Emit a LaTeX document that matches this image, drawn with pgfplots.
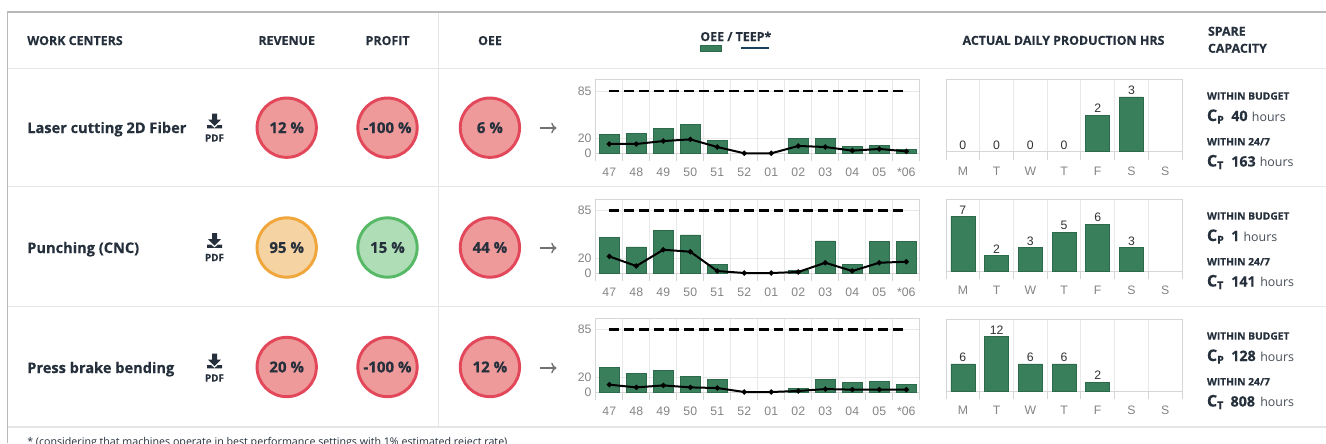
\documentclass[border=0pt]{standalone}
\usepackage{pgfplots}
\pgfplotsset{compat=1.18}
\usepackage{pgfplotstable}
\usepackage{fontspec}
\setmainfont{Open Sans}[BoldFeatures={FakeBold=0.35}]
\setsansfont{Liberation Sans}
\usetikzlibrary{arrows.meta}
\definecolor{barg}{HTML}{3A7F5C}
\definecolor{bare}{HTML}{2C6A4B}
\definecolor{gridc}{HTML}{E8E8E8}
\definecolor{axc}{HTML}{D6D6D6}
\definecolor{tickc}{HTML}{858585}
\definecolor{ink}{HTML}{25303C}
\definecolor{ruleL}{HTML}{E6E6E6}
\definecolor{frameC}{HTML}{B8B8B8}
\definecolor{redF}{HTML}{EE9A9A}
\definecolor{redB}{HTML}{E2485A}
\definecolor{orF}{HTML}{F6D3A3}
\definecolor{orB}{HTML}{F0A63A}
\definecolor{grF}{HTML}{AEDDB6}
\definecolor{grB}{HTML}{57B866}
\definecolor{navy}{HTML}{17405E}

\pgfplotstableread{
x bar line
0 26.3 12.7
1 27.6 12.7
2 34.4 16.7
3 39.4 19.0
4 17.2 8.6
5 nan 0
6 nan 0
7 20.4 10.0
8 20.4 8.6
9 9.5 3.6
10 11.3 5.9
11 5.4 2.7
}\oeeA
\pgfplotstableread{
x bar line
0 48.9 22.6
1 35.7 9.5
2 57.9 31.7
3 52.0 29.0
4 11.3 2.7
5 nan 0
6 nan 0
7 4.0 1.4
8 43.9 14.0
9 12.2 2.7
10 43.0 14.0
11 43.0 15.4
}\oeeB
\pgfplotstableread{
x bar line
0 33.5 10.0
1 24.9 6.3
2 29.0 9.0
3 21.7 6.3
4 16.7 5.4
5 nan 0
6 nan 0
7 5.0 1.4
8 16.7 4.0
9 13.0 3.2
10 14.0 3.2
11 10.9 3.2
}\oeeC
\pgfplotstableread{
x t
0 85
1 85
2 85
3 85
4 85
5 85
6 85
7 85
8 85
9 85
10 85
11 85
}\target
\pgfplotstableread{
x h
0 0
1 0
2 0
3 0
}\dayAzero
\pgfplotstableread{
x h
4 2
5 3
}\dayA
\pgfplotstableread{
x h
0 7
1 2
2 3
3 5
4 6
5 3
}\dayB
\pgfplotstableread{
x h
0 6
1 12
2 6
3 6
4 2
}\dayC

\pgfplotsset{
 common/.style={
  scale only axis, clip=false, ymin=0,
  axis line style={axc,line width=0.6pt},
  xmajorgrids=false, xminorgrids=true, ymajorgrids=true,
  grid style={gridc,line width=0.6pt},
  minor grid style={gridc,line width=0.6pt},
  major tick length=0pt, minor tick length=6pt,
  minor tick style={axc,line width=0.6pt},
  tick align=outside, xtick pos=lower, ytick pos=left,
  xticklabel style={anchor=center,inner sep=0pt,font=\sffamily\fontsize{9.2}{10}\selectfont,text=tickc,yshift=-14.6pt},
  yticklabel style={anchor=east,inner sep=0pt,font=\sffamily\fontsize{9.2}{10}\selectfont,text=tickc,xshift=-3pt},
 },
 oee/.style={common,
  width=243pt,height=55.3pt,
  xmin=-0.5,xmax=11.5,ymax=100.5,
  xtick={0,...,11},xticklabels={47,48,49,50,51,52,01,02,03,04,05,*06},
  minor xtick={-0.5,0.5,...,11.5},
  ytick={0,20,85},yticklabels={0,20,85},
 },
 day/.style={common,
  width=177pt,height=54.2pt,
  xmin=-0.5,xmax=6.5,
  xtick={0,...,6},xticklabels={M,T,W,T,F,S,S},
  minor xtick={-0.5,0.5,...,6.5},
  ytick=\empty,
 },
 gbar/.style={ybar,bar shift=0pt,fill=barg,draw=bare,line width=0.4pt},
 tline/.style={black,line width=1.5pt,sharp plot,mark=*,mark size=1.1pt,mark options={solid,fill=black}},
 dline/.style={black,line width=1.9pt,sharp plot,no marks,dash pattern=on 7.4pt off 3.8pt},
}

\newcommand{\badge}[5]{% x y fill border text
 \node[circle,fill=#3,draw=#4,line width=2.2pt,minimum size=44.5pt,inner sep=0pt,
  font=\bfseries\fontsize{11.3}{12}\selectfont,text=ink] at (#1,#2) {#5};}
\newcommand{\pdficon}[1]{%
 \begin{scope}[shift={(214.5,#1)}]
  \fill[ink] (-2.5,-14) -- (2.5,-14) -- (2.5,-8) -- (6.5,-8) -- (0,-1.5) -- (-6.5,-8) -- (-2.5,-8) -- cycle;
  \fill[ink] (-7.5,-2.5) -- (-3.5,-2.5) -- (0,0.5) -- (3.5,-2.5) -- (7.5,-2.5) -- (7.5,0.8) -- (-7.5,0.8) -- cycle;
  \node[font=\bfseries\fontsize{7.4}{8}\selectfont,text=ink,inner sep=0pt] at (0,10.5) {PDF};
 \end{scope}}
\newcommand{\rowarrow}[1]{%
 \draw[tickc!85!black,line width=1pt,-{To[length=4pt,width=8pt]}] (540,#1) -- (556.5,#1);}
\tikzset{sb/.style={anchor=base west,inner sep=0pt,font=\bfseries\fontsize{10.7}{12}\selectfont,text=ink},
 sc/.style={anchor=base west,inner sep=0pt,font=\bfseries\fontsize{12}{13}\selectfont,text=ink},
 sh/.style={anchor=base west,inner sep=0pt,font=\fontsize{9.3}{12}\selectfont,text=ink!85},
 sw/.style={anchor=west,inner sep=0pt,font=\bfseries\fontsize{7.65}{9}\selectfont,text=ink}}
\newcommand{\spare}[6]{% y, Cp, hours x, Ct, hours x, Ct x
 \node[sw] at (1206.7,#1+96) {WITHIN BUDGET};
 \node[sc] at (1206.7,#1+121) {C\raisebox{-1.9pt}{\bfseries\fontsize{8}{9}\selectfont P}};
 \node[sb] at (1231,#1+121) {#2};
 \node[sh] at (#3,#1+121) {hours};
 \node[sw] at (1206.7,#1+141.7) {WITHIN 24/7};
 \node[sc] at (1206.7,#1+166.5) {C\raisebox{-1.9pt}{\bfseries\fontsize{8}{9}\selectfont T}};
 \node[sb] at (#6,#1+166.5) {#4};
 \node[sh] at (#5,#1+166.5) {hours};
}

\begin{document}
\begin{tikzpicture}[x=0.75pt,y=-0.75pt]
\useasboundingbox (0,0) rectangle (1326,443);
\clip (0,0) rectangle (1326,443);
\fill[white] (0,0) rectangle (1326,443);

% rules
\foreach \yy in {68.3,186.8,306.8,427}{\draw[ruleL,line width=0.9pt] (7,\yy) -- (1326,\yy);}
\draw[ruleL,line width=0.9pt] (438.7,12) -- (438.7,427);
\draw[frameC,line width=1.3pt] (1326,12) -- (7.4,12) -- (7.4,443);

% header
\tikzset{hdr/.style={inner sep=0pt,font=\bfseries\fontsize{9.3}{11.5}\selectfont,text=ink}}
\node[hdr,anchor=west] at (27,40.6) {WORK CENTERS};
\node[hdr] at (286.7,40.6) {REVENUE};
\node[hdr] at (387.6,40.6) {PROFIT};
\node[hdr] at (490,40.6) {OEE};
\node[hdr] at (735.8,36.4) {OEE / TEEP*};
\fill[barg,draw=bare,line width=0.4pt] (700.3,45.3) rectangle (721.7,51.6);
\draw[navy,line width=2.2pt] (740.7,48) -- (768.7,48);
\node[hdr] at (1063.5,40.4) {ACTUAL DAILY PRODUCTION HRS};
\node[hdr,anchor=west] at (1207.7,31.3) {SPARE};
\node[hdr,anchor=west] at (1207.7,48.3) {CAPACITY};

% row names
\tikzset{rn/.style={anchor=base west,inner sep=0pt,font=\bfseries\fontsize{10.95}{13}\selectfont,text=ink}}
\node[rn] at (27,133) {Laser cutting 2D Fiber};
\node[rn] at (27,253) {Punching (CNC)};
\node[rn] at (27,373) {Press brake bending};
\pdficon{127.5}\pdficon{247}\pdficon{367.5}
\badge{286.7}{127.7}{redF}{redB}{12 \%}
\badge{387.5}{127.7}{redF}{redB}{-100 \%}
\badge{489.9}{127.7}{redF}{redB}{6 \%}
\badge{286.7}{247.5}{orF}{orB}{95 \%}
\badge{387.5}{247.5}{grF}{grB}{15 \%}
\badge{489.9}{247.5}{redF}{redB}{44 \%}
\badge{286.7}{367}{redF}{redB}{20 \%}
\badge{387.5}{367}{redF}{redB}{-100 \%}
\badge{489.9}{367}{redF}{redB}{12 \%}
\rowarrow{128}\rowarrow{248}\rowarrow{368}

% OEE charts
\coordinate (o1) at (595.8,153.3);
\coordinate (o2) at (595.8,273);
\coordinate (o3) at (595.8,392);
\begin{axis}[oee,at={(o1)},anchor=south west]
\addplot[gbar,bar width=14.4pt] table[x=x,y=bar]{\oeeA};
\addplot[tline] table[x=x,y=line]{\oeeA};
\addplot[dline] table[x=x,y=t]{\target};
\end{axis}
\begin{axis}[oee,at={(o2)},anchor=south west]
\addplot[gbar,bar width=14.4pt] table[x=x,y=bar]{\oeeB};
\addplot[tline] table[x=x,y=line]{\oeeB};
\addplot[dline] table[x=x,y=t]{\target};
\end{axis}
\begin{axis}[oee,at={(o3)},anchor=south west]
\addplot[gbar,bar width=14.4pt] table[x=x,y=bar]{\oeeC};
\addplot[tline] table[x=x,y=line]{\oeeC};
\addplot[dline] table[x=x,y=t]{\target};
\end{axis}

% Daily charts
\coordinate (d1) at (946,151.7);
\coordinate (d2) at (946,271.3);
\coordinate (d3) at (946,391.3);
\pgfplotsset{nn/.style={nodes near coords,point meta=y,
  nodes near coords style={font=\sffamily\fontsize{9.2}{10}\selectfont,text=black!80,inner sep=1.5pt,/pgf/number format/assume math mode=true}}}
\begin{axis}[day,at={(d1)},anchor=south west,ymax=3.95]
\addplot[gbar,draw=none,fill=none,bar width=18pt,nn] table[x=x,y=h]{\dayAzero};
\addplot[gbar,bar width=18pt,nn] table[x=x,y=h]{\dayA};
\end{axis}
\begin{axis}[day,at={(d2)},anchor=south west,ymax=9.2]
\addplot[gbar,bar width=18pt,nn] table[x=x,y=h]{\dayB};
\end{axis}
\begin{axis}[day,at={(d3)},anchor=south west,ymax=15.8]
\addplot[gbar,bar width=18pt,nn] table[x=x,y=h]{\dayC};
\end{axis}

% spare capacity
\spare{0}{40}{1251.7}{163}{1259.5}{1231}
\spare{120}{1}{1243.3}{141}{1260}{1231}
\spare{240}{128}{1260}{808}{1260}{1230.3}

% footnote
\node[anchor=base west,inner sep=0pt,font=\fontsize{8}{10}\selectfont,text=ink] at (27,445) {* (considering that machines operate in best performance settings with 1\% estimated reject rate)};
\end{tikzpicture}
\end{document}
